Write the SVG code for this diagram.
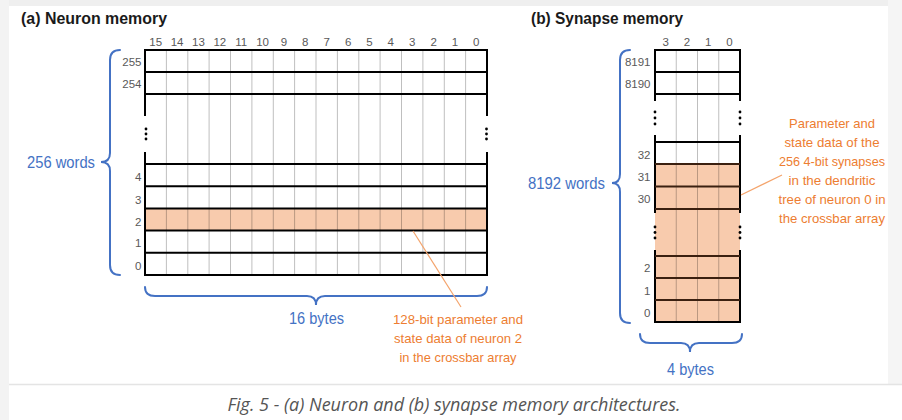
<svg xmlns="http://www.w3.org/2000/svg" width="902" height="420" viewBox="0 0 902 420">
<style>
  text { font-family: "Liberation Sans", Arial, sans-serif; }
  .title { font-size: 16px; font-weight: bold; fill: #1a1a1a; }
  .hdr { font-size: 11.5px; fill: #595959; text-anchor: middle; }
  .rl { font-size: 11.5px; fill: #595959; text-anchor: end; }
  .blue { font-size: 16px; fill: #4472c4; }
  .org { font-size: 13.5px; fill: #ed7d31; text-anchor: middle; }
  .thick { stroke: #000; stroke-width: 2; fill: none; }
  .brown { stroke: #3b2010; stroke-width: 2; fill: none; }
  .col { stroke: #000; stroke-opacity: 0.25; stroke-width: 1; fill: none; }
  .brace { stroke: #4472c4; stroke-width: 2; fill: none; stroke-linecap: round; }
  .lead { stroke: #f4a46c; stroke-width: 1.2; fill: none; }
  .hl { fill: #f8cbad; }
  .dot { fill: #000; }
  .cap { font-family: "Open Sans", "Liberation Sans", sans-serif; font-size: 18px; font-style: italic; fill: #555; text-anchor: middle; }
</style>

<!-- background -->
<rect x="0" y="0" width="902" height="420" fill="#ffffff"/>
<rect x="0" y="0" width="902" height="6" fill="#efefef"/>
<rect x="0" y="0" width="9" height="420" fill="#f3f3f3"/>
<rect x="888" y="0" width="14" height="384" fill="#f5f5f5"/>
<line x1="9" y1="384.5" x2="902" y2="384.5" stroke="#e4e4e4" stroke-width="1.5"/>

<!-- (a) Neuron memory -->
<g id="neuron-memory">
  <text class="title" x="21" y="23.5" textLength="146" lengthAdjust="spacingAndGlyphs">(a) Neuron memory</text>
  <rect class="hl" x="145" y="208.4" width="342" height="22.2"/>
  <g class="col">
    <line x1="166.4" y1="50" x2="166.4" y2="275"/>
    <line x1="187.8" y1="50" x2="187.8" y2="275"/>
    <line x1="209.1" y1="50" x2="209.1" y2="275"/>
    <line x1="230.5" y1="50" x2="230.5" y2="275"/>
    <line x1="251.9" y1="50" x2="251.9" y2="275"/>
    <line x1="273.3" y1="50" x2="273.3" y2="275"/>
    <line x1="294.6" y1="50" x2="294.6" y2="275"/>
    <line x1="316" y1="50" x2="316" y2="275"/>
    <line x1="337.4" y1="50" x2="337.4" y2="275"/>
    <line x1="358.8" y1="50" x2="358.8" y2="275"/>
    <line x1="380.1" y1="50" x2="380.1" y2="275"/>
    <line x1="401.5" y1="50" x2="401.5" y2="275"/>
    <line x1="422.9" y1="50" x2="422.9" y2="275"/>
    <line x1="444.3" y1="50" x2="444.3" y2="275"/>
    <line x1="465.6" y1="50" x2="465.6" y2="275"/>
  </g>
  <g class="thick">
    <line x1="144" y1="50" x2="488" y2="50"/>
    <line x1="144" y1="72" x2="488" y2="72"/>
    <line x1="144" y1="94" x2="488" y2="94"/>
    <line x1="144" y1="164" x2="488" y2="164"/>
    <line x1="144" y1="186.2" x2="488" y2="186.2"/>
    <line x1="144" y1="208.4" x2="488" y2="208.4"/>
    <line x1="144" y1="230.6" x2="488" y2="230.6"/>
    <line x1="144" y1="252.8" x2="488" y2="252.8"/>
    <line x1="144" y1="275" x2="488" y2="275"/>
    <line x1="145" y1="49" x2="145" y2="116"/>
    <line x1="145" y1="152" x2="145" y2="276"/>
    <line x1="487" y1="49" x2="487" y2="116"/>
    <line x1="487" y1="152" x2="487" y2="276"/>
  </g>
  <circle class="dot" cx="146" cy="129" r="1.4"/>
  <circle class="dot" cx="146" cy="134" r="1.4"/>
  <circle class="dot" cx="146" cy="139" r="1.4"/>
  <circle class="dot" cx="486.5" cy="129" r="1.4"/>
  <circle class="dot" cx="486.5" cy="134" r="1.4"/>
  <circle class="dot" cx="486.5" cy="139" r="1.4"/>
  <g>
    <text class="hdr" x="155.7" y="46">15</text>
    <text class="hdr" x="177.1" y="46">14</text>
    <text class="hdr" x="198.4" y="46">13</text>
    <text class="hdr" x="219.8" y="46">12</text>
    <text class="hdr" x="241.2" y="46">11</text>
    <text class="hdr" x="262.6" y="46">10</text>
    <text class="hdr" x="283.9" y="46">9</text>
    <text class="hdr" x="305.3" y="46">8</text>
    <text class="hdr" x="326.7" y="46">7</text>
    <text class="hdr" x="348.1" y="46">6</text>
    <text class="hdr" x="369.4" y="46">5</text>
    <text class="hdr" x="390.8" y="46">4</text>
    <text class="hdr" x="412.2" y="46">3</text>
    <text class="hdr" x="433.6" y="46">2</text>
    <text class="hdr" x="454.9" y="46">1</text>
    <text class="hdr" x="476.3" y="46">0</text>
  </g>
  <g>
    <text class="rl" x="141.5" y="66">255</text>
    <text class="rl" x="141.5" y="88">254</text>
    <text class="rl" x="141.5" y="180.5">4</text>
    <text class="rl" x="141.5" y="203.5">3</text>
    <text class="rl" x="141.5" y="225.5">2</text>
    <text class="rl" x="141.5" y="247">1</text>
    <text class="rl" x="141.5" y="269.5">0</text>
  </g>
</g>

<g id="neuron-words">
  <path class="brace" d="M120,50 Q110,50 110,60 V153 Q110,162 101,162 Q110,162 110,171 V265 Q110,275 120,275"/>
  <text class="blue" x="27" y="167.5" textLength="68" lengthAdjust="spacingAndGlyphs">256 words</text>
</g>

<g id="neuron-bytes">
  <path class="brace" d="M145,287 Q145,296 155,296 H307 Q316,296 316,305 Q316,296 325,296 H477 Q487,296 487,287"/>
  <text class="blue" x="289" y="323.5" textLength="55" lengthAdjust="spacingAndGlyphs">16 bytes</text>
</g>

<g id="neuron-note">
  <text class="org" x="458" y="324" textLength="130" lengthAdjust="spacingAndGlyphs">128-bit parameter and</text>
  <text class="org" x="458" y="343" textLength="128" lengthAdjust="spacingAndGlyphs">state data of neuron 2</text>
  <text class="org" x="458" y="362" textLength="117" lengthAdjust="spacingAndGlyphs">in the crossbar array</text>
</g>

<!-- (b) Synapse memory -->
<g id="synapse-memory">
  <text class="title" x="531" y="23.5" textLength="152" lengthAdjust="spacingAndGlyphs">(b) Synapse memory</text>
  <rect class="hl" x="655" y="164" width="85" height="158"/>
  <g class="col">
    <line x1="676.25" y1="50" x2="676.25" y2="322"/>
    <line x1="697.5" y1="50" x2="697.5" y2="322"/>
    <line x1="718.75" y1="50" x2="718.75" y2="322"/>
  </g>
  <g class="thick">
    <line x1="654" y1="50" x2="741" y2="50"/>
    <line x1="654" y1="72" x2="741" y2="72"/>
    <line x1="654" y1="94" x2="741" y2="94"/>
    <line x1="654" y1="142" x2="741" y2="142"/>
    <line x1="654" y1="322" x2="741" y2="322"/>
    <line x1="655" y1="49" x2="655" y2="101"/>
    <line x1="740" y1="49" x2="740" y2="101"/>
    <line x1="655" y1="135" x2="655" y2="213"/>
    <line x1="740" y1="135" x2="740" y2="213"/>
    <line x1="655" y1="250" x2="655" y2="323"/>
    <line x1="740" y1="250" x2="740" y2="323"/>
  </g>
  <g class="brown">
    <line x1="655" y1="164" x2="740" y2="164"/>
    <line x1="655" y1="186.5" x2="740" y2="186.5"/>
    <line x1="655" y1="209" x2="740" y2="209"/>
    <line x1="655" y1="256" x2="740" y2="256"/>
    <line x1="655" y1="278" x2="740" y2="278"/>
    <line x1="655" y1="300" x2="740" y2="300"/>
  </g>
  <circle class="dot" cx="655" cy="112" r="1.4"/>
  <circle class="dot" cx="655" cy="118" r="1.4"/>
  <circle class="dot" cx="655" cy="124" r="1.4"/>
  <circle class="dot" cx="740" cy="112" r="1.4"/>
  <circle class="dot" cx="740" cy="118" r="1.4"/>
  <circle class="dot" cx="740" cy="124" r="1.4"/>
  <circle class="dot" cx="655" cy="227" r="1.4"/>
  <circle class="dot" cx="655" cy="232.5" r="1.4"/>
  <circle class="dot" cx="655" cy="238" r="1.4"/>
  <circle class="dot" cx="740" cy="227" r="1.4"/>
  <circle class="dot" cx="740" cy="232.5" r="1.4"/>
  <circle class="dot" cx="740" cy="238" r="1.4"/>
  <g>
    <text class="hdr" x="665.6" y="46">3</text>
    <text class="hdr" x="686.9" y="46">2</text>
    <text class="hdr" x="708.1" y="46">1</text>
    <text class="hdr" x="729.4" y="46">0</text>
  </g>
  <g>
    <text class="rl" x="650.5" y="66">8191</text>
    <text class="rl" x="650.5" y="88">8190</text>
    <text class="rl" x="650.5" y="159">32</text>
    <text class="rl" x="650.5" y="181">31</text>
    <text class="rl" x="650.5" y="203">30</text>
    <text class="rl" x="650.5" y="272">2</text>
    <text class="rl" x="650.5" y="294.5">1</text>
    <text class="rl" x="650.5" y="316.5">0</text>
  </g>
</g>

<g id="synapse-words">
  <path class="brace" d="M630,50 Q620,50 620,60 V174 Q620,183 612,183 Q620,183 620,192 V313 Q620,323 630,323"/>
  <text class="blue" x="528" y="188.5" textLength="77" lengthAdjust="spacingAndGlyphs">8192 words</text>
</g>

<g id="synapse-bytes">
  <path class="brace" d="M640,334 Q640,343 650,343 H681 Q690,343 690,352 Q690,343 699,343 H732 Q742,343 742,334"/>
  <text class="blue" x="667" y="375" textLength="47" lengthAdjust="spacingAndGlyphs">4 bytes</text>
</g>

<g id="synapse-note">
  <text class="org" x="832" y="128" textLength="86" lengthAdjust="spacingAndGlyphs">Parameter and</text>
  <text class="org" x="832" y="147" textLength="95" lengthAdjust="spacingAndGlyphs">state data of the</text>
  <text class="org" x="832" y="166" textLength="106" lengthAdjust="spacingAndGlyphs">256 4-bit synapses</text>
  <text class="org" x="832" y="185" textLength="87" lengthAdjust="spacingAndGlyphs">in the dendritic</text>
  <text class="org" x="832" y="204" textLength="107" lengthAdjust="spacingAndGlyphs">tree of neuron 0 in</text>
  <text class="org" x="832" y="223" textLength="106" lengthAdjust="spacingAndGlyphs">the crossbar array</text>
</g>

<g id="connectors">
  <line class="lead" x1="413" y1="231" x2="461" y2="307"/>
  <line class="lead" x1="741" y1="195" x2="782" y2="175"/>
</g>

<text class="cap" x="454" y="411" textLength="453" lengthAdjust="spacingAndGlyphs">Fig. 5 - (a) Neuron and (b) synapse memory architectures.</text>
</svg>
